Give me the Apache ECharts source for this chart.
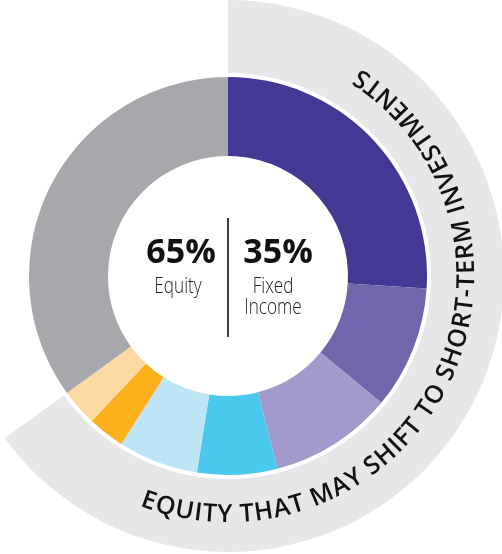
<!DOCTYPE html>
<html>
<head>
<meta charset="utf-8">
<script src="https://cdn.jsdelivr.net/npm/echarts@6/dist/echarts.min.js"></script>
<style>
html,body{margin:0;padding:0;background:#fff;}
#main{width:502px;height:554px;}
</style>
</head>
<body>
<div id="main"></div>
<script>
// 数据
var sliceNames = ['Equity 1','Equity 2','Equity 3','Equity 4','Equity 5','Equity 6','Equity 7','Fixed Income'];
var sliceValues = [26, 10, 10, 6.5, 6.5, 3, 3, 35];
var sliceColors = ['#433893','#7066ab','#a39acb','#4bc8ee','#bde5f6','#fcb01b','#fddaa2','#a7a8ab'];
var bandNames = ['Shift','Rest'];
var bandValues = [65, 35];
var totalTexts = ['65%','35%'];
var equityLabel = ['Equity'];
var fixedLabel = ['Fixed','Income'];
var arcText = 'EQUITY THAT MAY SHIFT TO SHORT-TERM INVESTMENTS';

var cx = 228, cy = 276;

//沿圆弧排列的文字, 首字与末字中心落在 fromDeg / toDeg
function arcLetters(text, r, fromDeg, toDeg, font) {
    var ctx = document.createElement('canvas').getContext('2d');
    ctx.font = font;
    var widths = [], natural = 0;
    for (var i = 0; i < text.length; i++) {
        widths.push(ctx.measureText(text[i]).width);
    }
    for (var k = 0; k < text.length - 1; k++) {
        natural += widths[k] / 2 + widths[k + 1] / 2;
    }
    var target = (fromDeg - toDeg) * Math.PI / 180 * r;
    var spacing = (target - natural) / (text.length - 1);
    var out = [], th = fromDeg * Math.PI / 180;
    for (var j = 0; j < text.length; j++) {
        if (j > 0) th -= (widths[j - 1] / 2 + widths[j] / 2 + spacing) / r;
        if (text[j] === ' ') continue;
        out.push({
            type: 'text',
            z: 100,
            x: cx + r * Math.sin(th),
            y: cy - r * Math.cos(th),
            rotation: Math.PI - th,
            silent: true,
            style: {
                text: text[j],
                font: font,
                fill: '#111',
                align: 'center',
                verticalAlign: 'middle'
            }
        });
    }
    return out;
}

var graphics = arcLetters(arcText, 239, 199.4, 34.2, '600 25px "Open Sans"');

graphics.push({
    type: 'line', z: 100,
    silent: true,
    shape: { x1: cx, y1: 218, x2: cx, y2: 337 },
    style: { stroke: '#3d3d3d', lineWidth: 2 }
});
graphics.push({
    type: 'text', x: 181, y: 253, z: 100, silent: true,
    style: { text: totalTexts[0], font: 'bold 34px "Open Sans"', fill: '#111', align: 'center', verticalAlign: 'middle' }
});
graphics.push({
    type: 'text', x: 278, y: 253, z: 100, silent: true,
    style: { text: totalTexts[1], font: 'bold 34px "Open Sans"', fill: '#111', align: 'center', verticalAlign: 'middle' }
});
graphics.push({
    type: 'text', x: 178, y: 287, z: 100, scaleX: 0.78, silent: true,
    style: { text: equityLabel.join('\n'), font: '300 22px "Open Sans"', fill: '#222', align: 'center', verticalAlign: 'middle' }
});
graphics.push({
    type: 'text', x: 273, y: 297, z: 100, scaleX: 0.78, silent: true,
    style: { text: fixedLabel.join('\n'), font: '300 22px "Open Sans"', fill: '#222', align: 'center', verticalAlign: 'middle', lineHeight: 21 }
});

var myChart = echarts.init(document.getElementById('main'));
myChart.setOption({
    animation: false,
    series: [{
        type: 'pie',
        center: [cx, cy],
        radius: [203, 276],
        startAngle: 90,
        clockwise: true,
        silent: true,
        label: { show: false },
        labelLine: { show: false },
        data: bandValues.map(function (v, i) {
            return { name: bandNames[i], value: v, itemStyle: { color: i === 0 ? '#e6e7e9' : 'rgba(0,0,0,0)' } };
        })
    }, {
        type: 'pie',
        center: [cx, cy],
        radius: [120, 199],
        startAngle: 90,
        clockwise: true,
        silent: true,
        label: { show: false },
        labelLine: { show: false },
        itemStyle: { borderWidth: 0 },
        data: sliceValues.map(function (v, i) {
            return { name: sliceNames[i], value: v, itemStyle: { color: sliceColors[i] } };
        })
    }],
    graphic: graphics
});
</script>
</body>
</html>
